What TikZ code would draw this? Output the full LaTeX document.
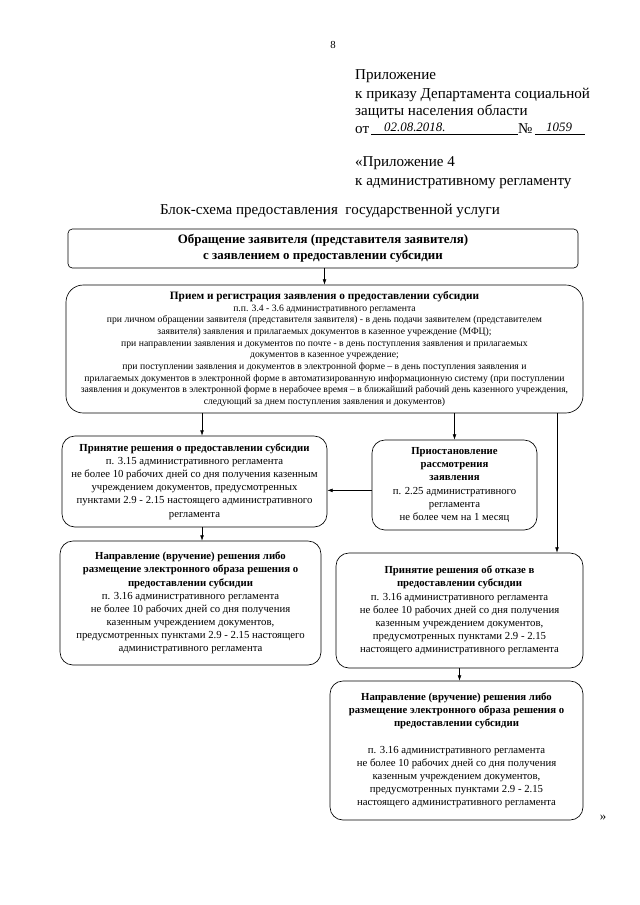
\documentclass[tikz,border=0pt]{standalone}
\usepackage{fontspec}
\setmainfont{Liberation Serif}
\usetikzlibrary{arrows.meta, positioning}
\newdimen\px \px=0.93pt

\begin{document}
\begin{tikzpicture}[x=0.93pt, y=-0.93pt,
    box/.style={draw, line width=0.6pt, align=center, inner sep=0pt, rounded corners=12pt},
    arr/.style={-{Latex[length=5pt, width=3.5pt]}, line width=0.5pt},
    head/.style={anchor=base west, inner sep=0pt, font=\fontsize{14}{17}\selectfont},
    hand/.style={anchor=base west, inner sep=0pt, font=\fontsize{12}{14}\selectfont\itshape},
    body/.style={font=\fontsize{10}{12.2}\selectfont}]
    \useasboundingbox (0,0) rectangle (640,905);

    % page header
    \node[inner sep=0pt, font=\fontsize{10}{12}\selectfont] (pagenum) at (333,45) {8};
    \node[head] (app) at (355,79) {Приложение};
    \node[head] (order1) at (355,98) {к приказу Департамента социальной};
    \node[head] (order2) at (355,115) {защиты населения области};
    \node[head] (ot) at (355,133) {от};
    \node[hand] (date) at (384,131) {02.08.2018.};
    \node[head] (numsign) at (518,133) {№};
    \node[hand] (num) at (546,131) {1059};
    \draw[line width=0.4pt] (ot.base east) ++(2,1) coordinate (dl) -- (numsign.base west |- dl);
    \draw[line width=0.4pt] (numsign.base east) ++(2,1) coordinate (nl) -- ++(50,0);
    \node[head] (app4) at (355,166) {«Приложение 4};
    \node[head] (regl) at (355,185) {к административному регламенту};

    % title
    \node[inner sep=0pt, font=\fontsize{14}{17}\selectfont] (title) at (330,211)
        {Блок-схема предоставления\ \ государственной услуги};

    % boxes
    \node[box, rounded corners=4pt, minimum width=510\px, minimum height=39\px,
          font=\fontsize{12}{15}\selectfont\bfseries] (appeal) at (323,248.5)
        {Обращение заявителя (представителя заявителя)\\с заявлением о предоставлении субсидии};

    \node[box, rounded corners=16pt, minimum width=517\px, minimum height=128\px,
          font=\fontsize{9}{10.8}\selectfont] (reception) at (324.5,349)
        {{\fontsize{10.5}{10.8}\selectfont\bfseries Прием и регистрация заявления о предоставлении субсидии}\\
         п.п. 3.4 - 3.6 административного регламента\\
         при личном обращении заявителя (представителя заявителя) - в день подачи заявителем (представителем\\
         заявителя) заявления и прилагаемых документов в казенное учреждение (МФЦ);\\
         при направлении заявления и документов по почте - в день поступления заявления и прилагаемых\\
         документов в казенное учреждение;\\
         при поступлении заявления и документов в электронной форме – в день поступления заявления и\\
         прилагаемых документов в электронной форме в автоматизированную информационную систему (при поступлении\\
         заявления и документов в электронной форме в нерабочее время – в ближайший рабочий день казенного учреждения,\\
         следующий за днем поступления заявления и документов)};

    \node[box, body, minimum width=265\px, minimum height=91\px] (decision) at (194.5,481.5)
        {\textbf{Принятие решения о предоставлении субсидии}\\
         п. 3.15 административного регламента\\
         не более 10 рабочих дней со дня получения казенным\\
         учреждением документов, предусмотренных\\
         пунктами 2.9 - 2.15 настоящего административного\\
         регламента};

    \node[box, body, minimum width=165\px, minimum height=90\px] (suspend) at (454.5,485)
        {\textbf{Приостановление}\\\textbf{рассмотрения}\\\textbf{заявления}\\
         п. 2.25 административного\\регламента\\не более чем на 1 месяц};

    \node[box, body, minimum width=261\px, minimum height=124\px] (delivery) at (190.5,603)
        {\textbf{Направление (вручение) решения либо}\\
         \textbf{размещение электронного образа решения о}\\
         \textbf{предоставлении субсидии}\\
         п. 3.16 административного регламента\\
         не более 10 рабочих дней со дня получения\\
         казенным учреждением документов,\\
         предусмотренных пунктами 2.9 - 2.15 настоящего\\
         административного регламента};

    \node[box, body, minimum width=247\px, minimum height=115\px] (refusal) at (459.5,610.5)
        {\textbf{Принятие решения об отказе в}\\
         \textbf{предоставлении субсидии}\\
         п. 3.16 административного регламента\\
         не более 10 рабочих дней со дня получения\\
         казенным учреждением документов,\\
         предусмотренных пунктами 2.9 - 2.15\\
         настоящего административного регламента};

    \node[box, body, minimum width=253\px, minimum height=139\px] (refdelivery) at (456.5,750.5)
        {\textbf{Направление (вручение) решения либо}\\
         \textbf{размещение электронного образа решения о}\\
         \textbf{предоставлении субсидии}\\[12.2pt]
         п. 3.16 административного регламента\\
         не более 10 рабочих дней со дня получения\\
         казенным учреждением документов,\\
         предусмотренных пунктами 2.9 - 2.15\\
         настоящего административного регламента};

    \node[inner sep=0pt, font=\fontsize{12}{14}\selectfont] (quote) at (603,818) {»};

    % connectors
    \coordinate (rline) at (557,0);
    \draw[arr] (appeal.south -| reception.north) -- (reception.north);
    \draw[arr] ([xshift=7pt]decision.north |- reception.south) -- ([xshift=7pt]decision.north);
    \draw[arr] (suspend.north |- reception.south) -- (suspend.north);
    \draw[arr] (reception.south -| rline) -- (refusal.north -| rline);
    \draw[arr] ([yshift=-5pt]suspend.west) -- ([yshift=-5pt]suspend.west -| decision.east);
    \draw[arr] ([xshift=7pt]decision.south) -- ([xshift=7pt]decision.south |- delivery.north);
    \draw[arr] (refusal.south) -- (refusal.south |- refdelivery.north);
\end{tikzpicture}
\end{document}
